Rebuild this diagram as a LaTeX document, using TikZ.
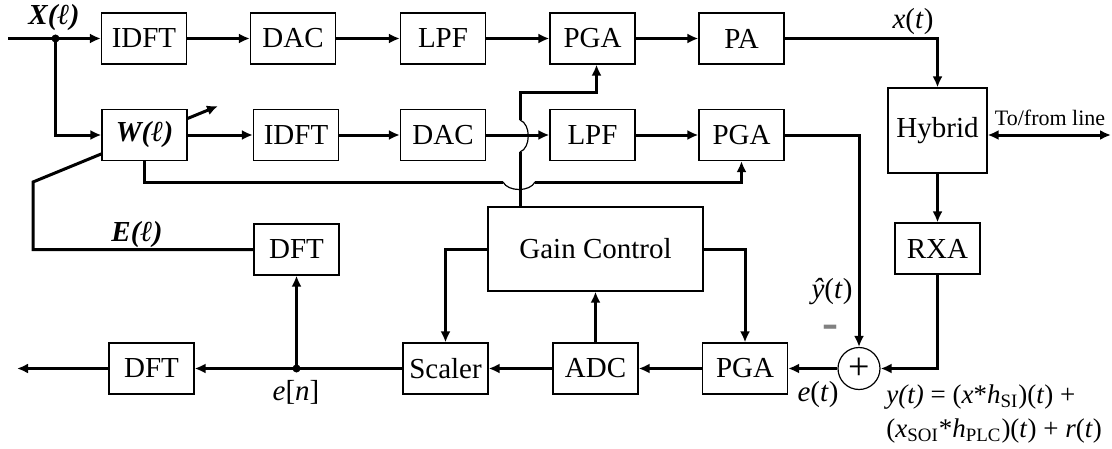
\documentclass[tikz,border=0pt]{standalone}
\usepackage{fontspec}
\setmainfont{Liberation Serif}
\usetikzlibrary{arrows.meta,backgrounds}
\tikzstyle{block} = [draw, line width=0.6pt, fill=white, minimum width=42.5pt, minimum height=25.5pt, inner sep=0pt]

\begin{document}
\begin{tikzpicture}[x=0.5pt,y=-0.5pt]
\tikzset{every node/.style={font=\fontsize{14.5}{17}\selectfont},
  conn/.style={line width=1.5pt, -{Latex[length=5.5pt,width=5pt]}},
  wire/.style={line width=1.5pt},
  hop/.style={line width=0.6pt}}
\useasboundingbox (0,0) rectangle (1112,449);

% transmit path
\node[block] (idftA) at (144,38.5) {IDFT};
\node[block] (dacA) at (293,38.5) {DAC};
\node[block] (lpfA) at (443,38.5) {LPF};
\node[block] (pgaA) at (592.5,38.5) {PGA};
\node[block] (pa) at (741.5,38.5) {PA};

% echo replica path
\node[block] (wf) at (144.5,135) {\textbf{\textit{W(ℓ)}}};
\node[block] (idftB) at (296,135) {IDFT};
\node[block] (dacB) at (443,135) {DAC};
\node[block] (lpfB) at (592.5,135) {LPF};
\node[block] (pgaB) at (741.5,135) {PGA};

\node[block, minimum width=49.5pt, minimum height=42.5pt] (hybrid) at (937.5,130.5) {Hybrid};
\node[block] (rxa) at (937.5,248.5) {RXA};
\node[block, minimum width=107.5pt, minimum height=42pt] (gain) at (595.5,249) {Gain Control};
\node[block] (dftA) at (296.5,249.5) {DFT};

% receive path
\node[block] (dftB) at (151.5,368.5) {DFT};
\node[block] (scaler) at (445.5,368.5) {Scaler};
\node[block] (adc) at (595.5,368.5) {ADC};
\node[block] (pgaC) at (745,368.5) {PGA};
\node[draw, circle, line width=0.6pt, minimum size=21pt, inner sep=0pt, fill=white,
  font=\fontsize{19}{19}\selectfont] (sum) at (859,368.5) {+};

\coordinate (inL) at (8,38.5);
\coordinate (xdot) at (55.5,38.5);
\coordinate (outL) at (17,368.5);
\coordinate (endot) at (296.5,368.5);
\coordinate (lineEnd) at (1111,135);
\coordinate (eCorner) at (33,182);
\coordinate (wTip) at (218,106);
\coordinate (wCorner) at (144.5,182);
\coordinate (gCorner) at (520,93);

% labels
\node (xlab) at (54,18) {\textbf{\textit{X(ℓ)}}};
\node (elab) at (137,235) {\textbf{\textit{E(ℓ)}}};
\node (xtlab) at (913,22) {\textit{x}(\textit{t})};
\node[font=\fontsize{11}{12}\selectfont] (linelab) at (1050,118) {To/from line};
\node (yhat) at (832,292) {\textit{ŷ}(\textit{t})};
\node[text=gray, inner sep=0pt, font=\fontsize{24}{24}\bfseries] (minus) at (830,332) {-};
\node (etlab) at (818,395) {\textit{e}(\textit{t})};
\node (enlab) at (296,392) {\textit{e}[\textit{n}]};
\node[anchor=base west, inner sep=0pt, font=\fontsize{13.5}{16}\selectfont] (ylabA) at (886,403)
  {\textit{y(t)} = (\textit{x}*\textit{h}\textsubscript{SI})(\textit{t}) +};
\node[anchor=base west, inner sep=0pt, font=\fontsize{13.5}{16}\selectfont] (ylabB) at (886,437)
  {(\textit{x}\textsubscript{SOI}*\textit{h}\textsubscript{PLC})(\textit{t}) + \textit{r}(\textit{t})};

% connectors
\draw[wire] (inL) -- (xdot);
\draw[conn] (xdot) -- (idftA);
\draw[conn] (xdot) |- (wf);
\fill (xdot) circle (2pt);

\foreach \from/\to in {idftA/dacA,dacA/lpfA,lpfA/pgaA,pgaA/pa,wf/idftB,idftB/dacB,dacB/lpfB,lpfB/pgaB,hybrid/rxa,sum/pgaC,pgaC/adc,adc/scaler,adc/gain,dftB/outL}
{
	\draw[conn] (\from) -- (\to);
}

\draw[conn] (pa) -| (hybrid);
\draw[{Latex[length=5.5pt,width=5pt]}-{Latex[length=5.5pt,width=5pt]}, line width=1.5pt] (lineEnd -| hybrid.east) -- (lineEnd);
\draw[conn] (rxa) |- (sum);
\draw[conn] (pgaB) -| (sum);

\draw[wire] (scaler) -- (endot);
\draw[conn] (endot) -- (dftB);
\draw[conn] (endot) -- (dftA);
\fill (endot) circle (2pt);

\draw[conn] (gain.west) -| (scaler);
\draw[conn] (gain.east) -| (pgaC);

% error feedback into the filter
\begin{scope}[on background layer]
\draw[conn] (dftA.west) -| (eCorner) -- (wTip);
\end{scope}

% filter tap to lower PGA, hopping over the gain line
\draw[wire] (wf.south) -- (wCorner) -- (503,182);
\draw[hop] (503,182) .. controls (508,192) and (530,192) .. (535,182);
\draw[conn] (535,182) -| (pgaB.south);

% gain line to upper PGA, hopping over DAC -> LPF
\draw[wire] (gain.north -| gCorner) -- (520,152);
\draw[hop] (520,152) .. controls (531,148) and (531,124) .. (520,120);
\draw[conn] (520,120) -- (gCorner) -| ([xshift=2pt]pgaA.south);

\end{tikzpicture}
\end{document}
